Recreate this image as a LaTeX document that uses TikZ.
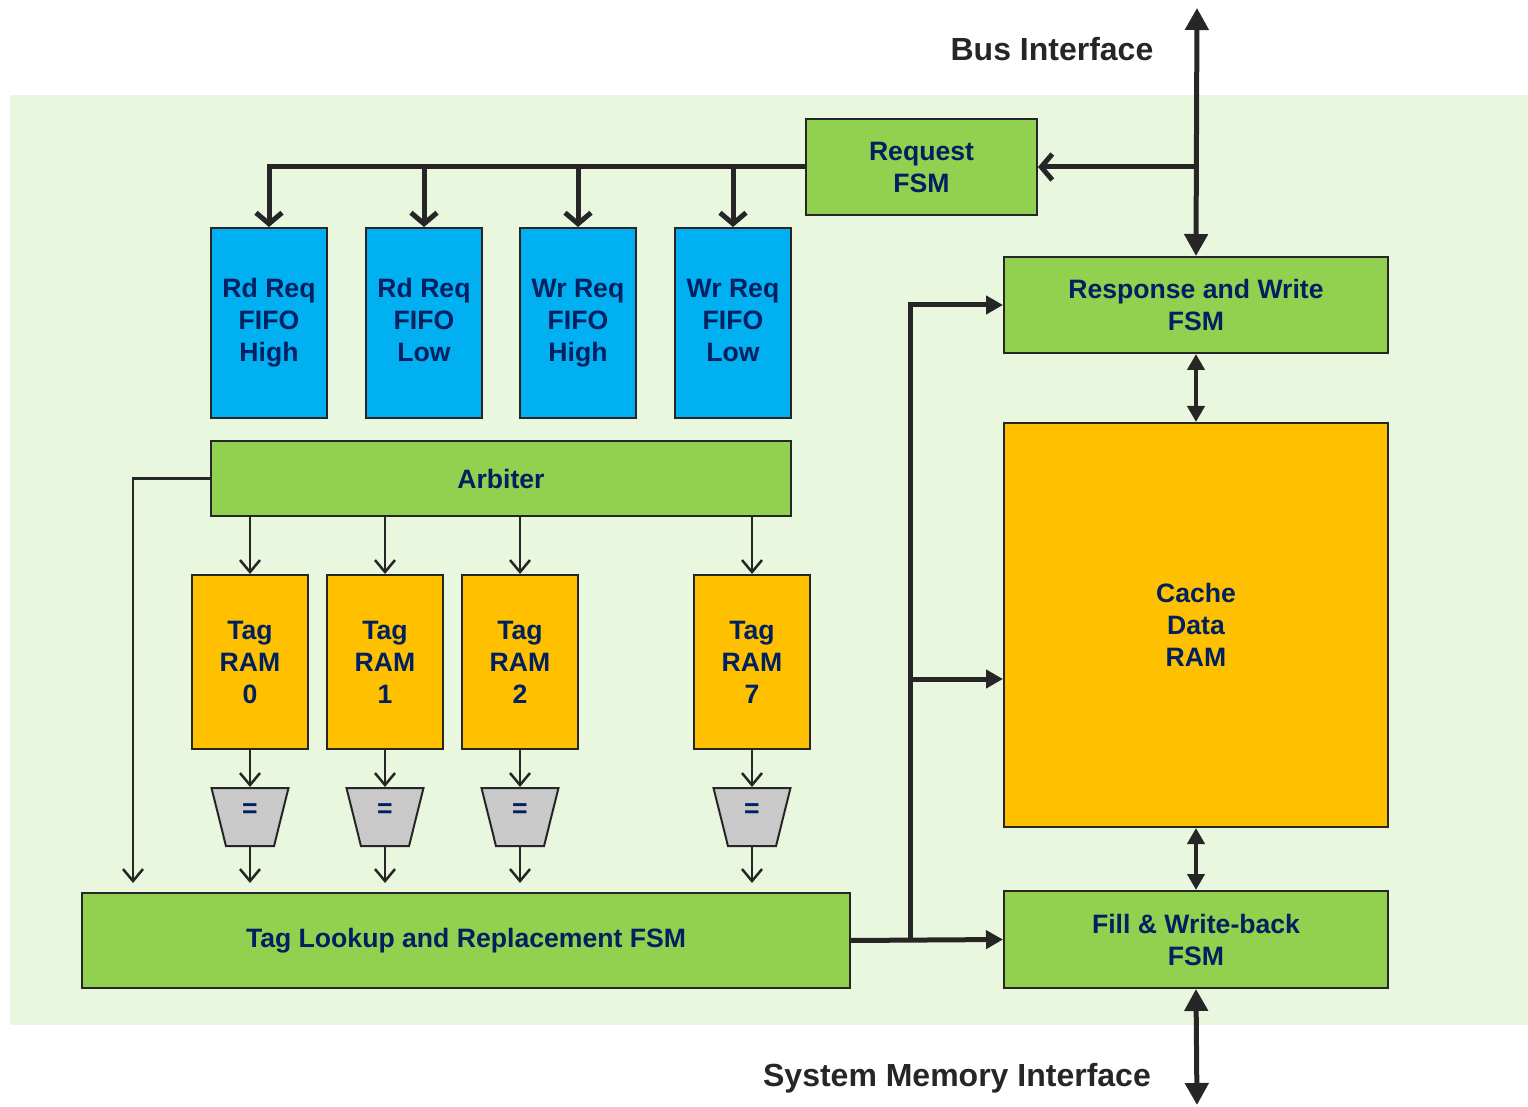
\documentclass[tikz,border=0pt]{standalone}
\usepackage{fontspec}
\setmainfont{Liberation Sans}
\usetikzlibrary{arrows.meta,shapes.geometric}

\definecolor{bgfill}{HTML}{EAF7DF}
\definecolor{fsmgreen}{HTML}{92D050}
\definecolor{fifoblue}{HTML}{00B0F0}
\definecolor{ramorange}{HTML}{FFC000}
\definecolor{cmpgray}{HTML}{C9C9C9}
\definecolor{navy}{HTML}{002060}
\definecolor{linegray}{HTML}{262626}

\tikzset{
	block/.style={draw=linegray, line width=1pt, text=navy, align=center, inner sep=0pt,
		font=\bfseries\fontsize{13.3}{16}\selectfont},
	fsm/.style={block, fill=fsmgreen},
	fifo/.style={block, fill=fifoblue, minimum width=58pt, minimum height=95pt},
	tagram/.style={block, fill=ramorange, minimum width=58pt, minimum height=87pt},
	cmp/.style={block, fill=cmpgray, trapezium, shape border rotate=180, trapezium angle=76,
		trapezium stretches body, minimum width=38.5pt, text height=3pt, text depth=3pt,
		inner ysep=11.5pt, inner xsep=2pt},
	iflabel/.style={text=linegray, font=\bfseries\fontsize{16}{19}\selectfont},
	bus/.style={draw=linegray, line width=2.5pt,
		{Triangle[length=11pt,width=11.5pt]}-{Triangle[length=11pt,width=11.5pt]}},
	link/.style={draw=linegray, line width=2pt,
		{Triangle[length=8pt,width=8.5pt]}-{Triangle[length=8pt,width=8.5pt]}},
	feed/.style={draw=linegray, line width=2.5pt, -{Triangle[length=8.5pt,width=9pt]}},
	req/.style={draw=linegray, line width=2.5pt, -{Straight Barb[length=5.5pt,width=13pt]}},
	thinarr/.style={draw=linegray, line width=1.25pt, -{Straight Barb[length=6pt,width=10pt]}}
}

\begin{document}
\begin{tikzpicture}[x=0.5pt, y=-0.5pt]
		\useasboundingbox (0,0) rectangle (1528,1107);
		\fill[bgfill] (10,95) rectangle (1528,1025);

		% interface labels
		\node[iflabel] (buslbl) at (1052,49) {Bus Interface};
		\node[iflabel] (memlbl) at (957,1078) {System Memory Interface};

		% right hand column
		\node[fsm, minimum width=115.5pt, minimum height=48pt] (reqfsm) at (921.5,167) {Request\\FSM};
		\node[fsm, minimum width=192pt, minimum height=48pt] (respfsm) at (1196,305) {Response and Write\\FSM};
		\node[block, fill=ramorange, minimum width=192pt, minimum height=202pt] (cache) at (1196,625) {Cache\\Data\\RAM};
		\node[fsm, minimum width=192pt, minimum height=48.5pt] (fillfsm) at (1196,939.5) {Fill \& Write-back\\FSM};

		% request fifos
		\node[fifo] (fifo1) at (269,323) {\strut Rd Req\\FIFO\\High\strut};
		\node[fifo] (fifo2) at (424,323) {\strut Rd Req\\FIFO\\Low\strut};
		\node[fifo] (fifo3) at (578,323) {\strut Wr Req\\FIFO\\High\strut};
		\node[fifo] (fifo4) at (733,323) {\strut Wr Req\\FIFO\\Low\strut};

		\node[fsm, minimum width=290pt, minimum height=37.5pt] (arb) at (501,478.5) {Arbiter};

		% tag rams and comparators
		\node[tagram] (tag0) at (250,662) {Tag\\RAM\\0};
		\node[tagram] (tag1) at (385,662) {Tag\\RAM\\1};
		\node[tagram] (tag2) at (520,662) {Tag\\RAM\\2};
		\node[tagram] (tag7) at (752,662) {Tag\\RAM\\7};
		\foreach \i in {0,1,2,7}
			\node[cmp] (cmp\i) at (tag\i |- 0,817) {=};

		\node[fsm, minimum width=384pt, minimum height=47.5pt] (lookup) at (466,940.5) {Tag Lookup and Replacement FSM};

		% bus connections
		\coordinate (bustop) at (1197,8);
		\coordinate (membot) at (1197,1105);
		\draw[bus] (bustop) -- (respfsm.north);
		\draw[bus] (fillfsm.south) -- (membot);
		\draw[req] (bustop |- reqfsm.east) -- (reqfsm.east);

		% request fsm to fifos
		\draw[req] (reqfsm.west) -| (fifo1.north);
		\foreach \i in {2,3,4}
			\draw[req] (fifo\i.north |- reqfsm.west) -- (fifo\i.north);

		% arbiter, tag rams, compare
		\foreach \i in {0,1,2,7} {
			\draw[thinarr] (tag\i.north |- arb.south) -- (tag\i.north);
			\draw[thinarr] (tag\i.south) -- (cmp\i.north);
			\draw[thinarr, shorten >=4.5pt] (cmp\i.south) -- (cmp\i |- lookup.north);
		}
		\draw[thinarr, shorten >=4.5pt] (arb.west) -| ([xshift=26pt]lookup.north west);

		% lookup fsm to the right
		\draw[feed] (lookup.east) -- (fillfsm.west);
		\coordinate (jn) at (910,940);
		\draw[feed] (jn) |- (respfsm.west);
		\draw[feed] (jn |- 0,679) -- (cache.west |- 0,679);
		\draw[link] (respfsm.south) -- (cache.north);
		\draw[link] (cache.south) -- (fillfsm.north);
	\end{tikzpicture}
\end{document}
